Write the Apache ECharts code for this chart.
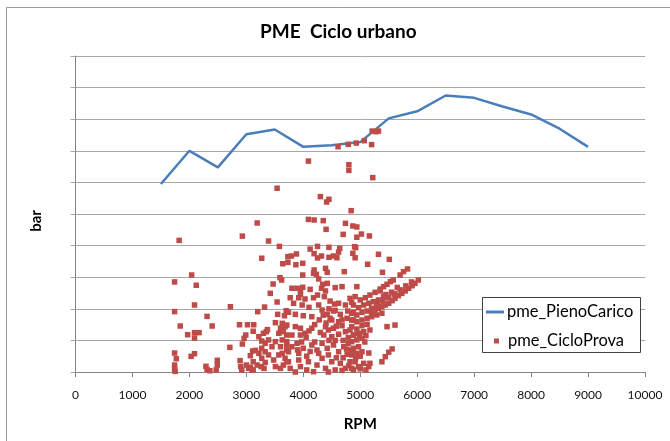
<!DOCTYPE html>
<html>
<head>
<meta charset="utf-8">
<script src="https://cdn.jsdelivr.net/npm/echarts@6/dist/echarts.min.js"></script>
<style>html,body{margin:0;padding:0;background:#fff}#chart{width:670px;height:441px}</style>
</head>
<body>
<div id="chart"></div>
<script>
// full load curve (rpm / bar)
const fullRpm = [1500, 2000, 2500, 3000, 3500, 4000, 4500, 5000, 5500, 6000, 6500, 7000, 7500, 8000, 8500, 9000];
const fullPme = [11.9, 14.0, 12.95, 15.05, 15.35, 14.25, 14.35, 14.55, 16.05, 16.5, 17.5, 17.35, 16.8, 16.3, 15.4, 14.25];

// urban cycle points [rpm, bar]
const cyclePoints = [
  [4610,14.26],[4790,14.41],[4930,14.49],[5070,14.64],[5200,14.39],[5280,15.21],[5210,15.25],[5320,15.25],
  [4090,13.35],[4800,13.12],[4800,12.76],[5220,12.3],[3540,11.63],[4300,11.1],[4410,10.76],[4450,10.93],[4840,10.21],[3190,9.43],
  [4090,9.66],[4190,9.62],[4350,9.58],[4740,9.41],[4400,9.03],[4870,9.24],[4940,9.18],[4700,8.71],[5020,8.73],[5160,8.61],[4940,8.53],
  [1820,8.33],[2930,8.6],[3390,8.29],[3580,7.95],
  [4120,7.78],[4250,7.95],[4450,7.89],[4640,7.83],[4620,7.59],[4590,7.23],[4900,7.93],[4920,7.87],[4870,7.51],[4910,7.23],[5320,7.45],[5510,7.13],
  [3790,7.34],[3880,7.47],[4190,7.49],[4250,7.22],[4320,7.34],[4450,7.26],[4530,7.34],[3730,7.3],[3270,7.2],
  [3640,6.85],[3730,6.94],[3870,6.79],[3990,6.88],[5130,6.82],[5390,6.31],[5830,6.52],[5760,6.35],[5700,6.14],
  [2040,6.14],[1740,5.7],[2120,5.49],[3590,5.97],[3620,5.82],[3470,5.57],[3420,4.98],[3540,4.43],[2090,4.24],[2720,4.13],
  [1740,3.82],[3200,3.82],[3320,4.11],[3550,3.65],[3670,3.56],[3700,3.88],[2310,3.52],[1840,2.91],[2400,2.91],[2880,2.99],
  [3020,2.99],[3130,2.99],[3510,3.12],[3630,3.08],[1970,2.36],[2090,2.49],[2170,2.49],[2090,2.15],[3120,2.58],[2990,2.34],
  [2960,2.13],[3370,2.68],[2930,1.77],[2710,1.56],[1740,1.2],[1770,0.84],[2030,0.99],[2090,1.16],[1740,0.44],[1740,0.19],
  [1750,0.04],[2290,0.36],[2360,0.08],[2310,0.17],[2490,0.74],[2490,0.44],[2470,0.13],[2890,0.72],[2900,0.34],[2920,0.13],
  [3000,0.44],[3070,0.3],[3120,0.13],[3220,2.23],[3270,1.96],[3300,2.45],[3350,2.55],
  [3890,5.3],[3950,5.19],[3990,6.14],[4180,6.25],[4190,6.46],
  [4230,6.18],[4390,6.56],[4420,6.31],[4720,6.35],[4270,5.89],
  [3800,5.3],[3990,5.36],[4120,5.23],[4320,5.3],[4340,5.55],[4420,5.61],[4560,5.34],[4680,5.4],[4390,5.13],
  [3770,4.7],[3920,4.7],[4030,4.62],[4180,4.7],[4250,4.87],[4370,4.77],[4470,4.49],[4620,4.35],[4740,4.24],[4850,4.41],
  [3830,4.35],[3980,4.24],[4100,4.09],[4270,4.24],[3950,4.92],
  [3740,3.78],[3860,3.65],[4000,3.56],[4150,3.5],[4330,3.92],[4420,3.65],[4530,3.86],[4650,3.65],[4780,3.86],[4880,3.78],
  [4500,3.29],[4620,3.18],[4770,3.4],[4880,3.29],
  [3710,2.97],[3860,2.87],[3950,2.77],[3800,2.34],[3950,2.34],[4030,2.45],[4390,2.87],[4440,2.66],[4530,2.77],[4680,2.93],
  [4740,2.55],[4820,2.66],[4360,2.34],[4500,2.23],[4620,2.39],[4790,2.17],[4880,2.34],[4150,2.77],
  [3710,1.92],[3800,1.6],[3890,1.82],[3740,1.28],[3920,1.18],[4000,1.5],[4150,1.71],[4240,1.39],[4330,1.82],[4420,1.5],
  [4530,1.71],[4620,1.28],[4710,1.6],[4790,1.82],[4850,1.39],[4270,1.18],[4440,1.08],[4770,1.12],
  [3710,0.65],[3770,0.23],[3920,0.76],[3950,0.34],[4060,0.13],[4090,0.65],[4240,0.44],[4330,0.87],[4390,0.23],[4500,0.65],
  [4560,0.13],[4650,0.55],[4740,0.23],[4820,0.65],[4880,0.13],[4180,0.02],[3860,0.0],[4440,0.0],
  [3110,1.33],[3160,1.37],[3070,1.03],[3120,0.65],[3040,0.23],[3100,0.11],[3190,0.44],[3260,0.34],[3310,0.23],[3330,0.61],
  [3270,0.87],[3390,1.08],[3480,0.76],[3510,0.34],[3600,0.23],[3650,0.44],[3680,0.87],[3570,1.08],[3630,1.18],[3710,1.39],
  [3740,0.65],[3220,1.18],[3330,1.28],
  [3600,2.77],[3680,2.87],[3650,2.55],[3570,2.45],[3710,2.34],[3630,2.03],[3510,1.92],[3390,2.03],[3330,1.82],[3270,1.5],
  [3450,1.6],[3600,1.6],[3710,1.71],
  [3900,1.4],[3970,1.9],[4050,2.2],[4100,2.6],[4200,3.0],[4280,3.3],[4350,3.6],[4450,4.0],[4550,4.3],[4060,1.0],
  [4120,1.3],[4200,1.9],[4300,2.5],[4400,3.1],[4470,3.4],[4560,3.9],[4580,2.9],[4680,3.3],[4560,2.0],[4450,2.0],
  [4940,5.4],[5580,5.82],[5530,5.72],[5470,5.55],[5410,5.4],[5350,5.25],
  [6020,5.82],[5960,5.61],[5910,5.46],[5850,5.3],[5790,5.13],[5730,4.98],[5670,4.83],[5610,4.66],[5560,4.51],[5500,4.35],
  [5440,4.24],[5380,4.13],[5320,4.03],[5260,3.92],[5200,3.78],
  [5900,5.7],[5800,5.45],[5700,5.2],[5600,4.95],[5500,4.7],[5400,4.45],[5300,4.3],[5650,5.35],[5550,5.05],[5450,4.9],
  [4820,4.66],[4910,4.77],[5000,4.56],[5090,4.7],[5170,4.87],[5260,5.04],[5350,5.13],[4880,4.24],[4970,4.07],[5060,4.24],
  [5150,4.35],[5230,4.45],[5320,4.56],[5410,4.77],[4850,3.72],[4940,3.61],[5030,3.78],[5120,3.86],[5200,4.03],[5290,4.13],
  [4850,3.29],[4940,3.18],[5030,3.29],[5120,3.4],[5200,3.5],[5290,3.61],[5380,3.72],
  [4850,2.87],[4940,2.72],[5030,2.93],[5120,3.02],[4880,2.34],[4970,2.45],[5060,2.55],[5170,2.66],[4850,1.92],[4940,2.03],
  [5030,2.13],[4880,1.5],[4970,1.6],[4850,1.08],[4940,1.18],[5030,1.28],[4910,0.65],[4850,0.23],[4970,0.34],[5060,0.55],
  [4700,0.9],[4760,1.45],[4800,0.4],[4920,0.9],[5000,1.0],[5000,0.2],[4700,2.0],[4580,0.9],[4680,0.1],[4990,2.3],
  [5080,1.9],[5100,2.3],[5150,1.2],
  [5470,2.87],[5610,2.97],[5560,1.46],[5500,1.25],[5440,0.97],[5380,0.65],[5170,0.55],[5150,0.34],[5100,0.13]
];

const font = 'Lato, "Open Sans", sans-serif';
const chart = echarts.init(document.getElementById('chart'));

chart.setOption({
  animation: false,
  backgroundColor: '#fff',
  title: {
    text: 'PME  Ciclo urbano',
    left: 255,
    top: 17,
    textStyle: { fontFamily: font, fontSize: 19, fontWeight: 'bold', color: '#000' }
  },
  grid: { left: 75.5, right: 25, top: 56, bottom: 69 },
  xAxis: {
    type: 'value',
    min: 0, max: 10000, interval: 1000,
    name: 'RPM', nameLocation: 'middle', nameGap: 45,
    nameTextStyle: { fontFamily: font, fontSize: 15, fontWeight: 'bold', color: '#000' },
    axisLine: { lineStyle: { color: '#868686' } },
    axisTick: { show: true, length: 5, lineStyle: { color: '#868686' } },
    axisLabel: { fontFamily: font, fontSize: 12, color: '#111', margin: 17, formatter: v => String(v) },
    splitLine: { show: false }
  },
  yAxis: {
    type: 'value',
    min: 0, max: 20, interval: 2,
    name: 'bar', nameLocation: 'middle', nameGap: 32,
    nameTextStyle: { fontFamily: font, fontSize: 15, fontWeight: 'bold', color: '#000', padding: [0, 14, 0, 0] },
    axisLine: { show: true, lineStyle: { color: '#868686' } },
    axisTick: { show: true, length: 5, lineStyle: { color: '#a6a6a6' } },
    axisLabel: { show: false },
    splitLine: { lineStyle: { color: '#a6a6a6' } }
  },
  legend: [
    {
      data: ['pme_PienoCarico'], left: 486, top: 303, padding: 0,
      icon: 'rect', itemWidth: 18, itemHeight: 3, z: 10,
      textStyle: { fontFamily: font, fontSize: 16.5, color: '#000', lineHeight: 18, padding: [0, 0, 0, -2] }
    },
    {
      data: ['pme_CicloProva'], left: 494, top: 332, padding: 0,
      itemWidth: 5, itemHeight: 5, icon: 'rect', z: 10,
      textStyle: { fontFamily: font, fontSize: 16.5, color: '#000', lineHeight: 18, padding: [0, 0, 0, 4] }
    }
  ],
  graphic: [
    {
      type: 'rect', z: 0, silent: true,
      shape: { x: 6.5, y: 7.5, width: 700, height: 500 },
      style: { fill: 'none', stroke: '#9a9a9a', lineWidth: 1 }
    },
    {
      type: 'rect', z: 5, silent: true,
      shape: { x: 482.5, y: 297.5, width: 158, height: 55 },
      style: { fill: '#fff', stroke: '#404040', lineWidth: 1 }
    }
  ],
  series: [
    {
      name: 'pme_PienoCarico',
      type: 'line',
      data: fullRpm.map((r, i) => [r, fullPme[i]]),
      symbol: 'none',
      lineStyle: { color: '#4A7EBB', width: 2.5 },
      itemStyle: { color: '#4A7EBB' },
      z: 2
    },
    {
      name: 'pme_CicloProva',
      type: 'scatter',
      data: cyclePoints,
      symbol: 'rect',
      symbolSize: 5.5,
      itemStyle: { color: '#BE4B48', opacity: 1 },
      z: 3
    }
  ]
});
</script>
</body>
</html>
